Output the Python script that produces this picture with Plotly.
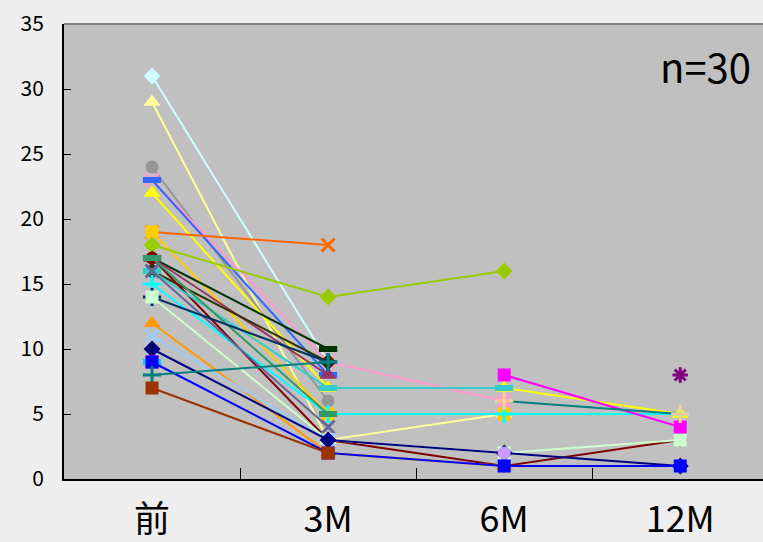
import plotly.graph_objects as go

categories = ["前", "3M", "6M", "12M"]

series_names = [f"症例{i}" for i in range(1, 31)]
series_values = [
    [31, 9, None, None],
    [29, 3, 5, None],
    [24, 6, None, None],
    [23, 9, 6, None],
    [23, 8, None, None],
    [22, 7, 7, 5],
    [19, 18, None, None],
    [19, 5, 5, None],
    [18, 14, 16, None],
    [17, 10, None, None],
    [17, 8, None, None],
    [16, 9, None, None],
    [17, 3, 1, 3],
    [16, 7, 7, None],
    [15, 5, 5, 5],
    [17, 5, None, None],
    [16, 4, None, None],
    [14, 9, None, None],
    [14, 3, 2, 3],
    [12, 2, 1, None],
    [11, 3, None, None],
    [10, 3, 2, 1],
    [9, None, 8, 4],
    [9, None, None, None],
    [9, 2, 1, 1],
    [8, 9, None, None],
    [None, None, 6, 5],
    [7, 2, None, None],
    [None, None, 2, None],
    [None, None, None, 8],
]
series_colors = [
    "#CCFFFF", "#FFFF99", "#969696", "#FF99CC", "#3366FF", "#FFFF00",
    "#FF6600", "#FFCC00", "#99CC00", "#003300", "#993366", "#333300",
    "#800000", "#33CCCC", "#00FFFF", "#339966", "#666699", "#003366",
    "#CCFFCC", "#FF9900", "#99CCFF", "#000080", "#FF00FF", "#00CCFF",
    "#0000FF", "#008080", "#FFCC99", "#993300", "#CC99FF", "#800080",
]
series_line_colors = list(series_colors)
series_line_colors[26] = "#008080"
series_symbols = [
    "diamond", "triangle-up", "circle", "x-thin-open", "line-ew-open", "triangle-up",
    "x-thin-open", "square", "diamond", "line-ew-open", "triangle-up", "diamond",
    "circle", "line-ew-open", "cross-thin-open", "line-ew-open", "x-thin-open", "cross-thin-open",
    "square", "triangle-up", "x-thin-open", "diamond", "square", "line-ew-open",
    "square", "cross-thin-open", "cross-thin-open", "square", "circle", "asterisk-open",
]

y_ticks = [0, 5, 10, 15, 20, 25, 30, 35]

fig = go.Figure()
for name, vals, col, lcol, sym in zip(series_names, series_values, series_colors,
                                      series_line_colors, series_symbols):
    if sym.startswith("line-ew"):
        mline = 6
    elif sym.endswith("open"):
        mline = 3
    else:
        mline = 0
    size = 15 if sym.startswith("triangle") else 13
    fig.add_trace(go.Scatter(
        x=categories, y=vals, name=name, mode="lines+markers",
        connectgaps=False,
        line=dict(color=lcol, width=2),
        marker=dict(symbol=sym, size=size, color=col,
                    line=dict(color=col, width=mline)),
        showlegend=False,
    ))

fig.add_annotation(text="n=30", xref="paper", yref="paper", x=0.985, y=0.975,
                   xanchor="right", yanchor="top", showarrow=False,
                   font=dict(size=40, color="black", family="Noto Sans CJK JP"))

fig.add_shape(type="line", xref="paper", yref="paper", x0=0, x1=1, y0=1, y1=1,
              line=dict(color="#808080", width=2))

fig.update_layout(
    width=763, height=542,
    margin=dict(l=64, r=0, t=24, b=60),
    plot_bgcolor="#C0C0C0",
    paper_bgcolor="#EEEEEE",
    font=dict(family="Noto Sans CJK JP", color="black"),
    xaxis=dict(
        type="category", categoryorder="array", categoryarray=categories,
        range=[-0.5, 3.47], tickson="boundaries", ticks="inside", ticklen=11,
        tickcolor="black", showgrid=False, showline=True, linecolor="black",
        linewidth=2, tickfont=dict(size=36), zeroline=False,
        ticklabelstandoff=8,
    ),
    yaxis=dict(
        range=[0, 35], tickvals=y_ticks, ticks="inside", ticklen=7,
        tickcolor="black", showgrid=False, showline=True, linecolor="black",
        linewidth=2, tickfont=dict(size=21), zeroline=False,
        ticklabelstandoff=14,
    ),
)

fig.write_html(
    "out.html",
    config={"displayModeBar": False},
    post_script="document.body.style.margin='0';document.body.style.overflow='hidden';",
)
